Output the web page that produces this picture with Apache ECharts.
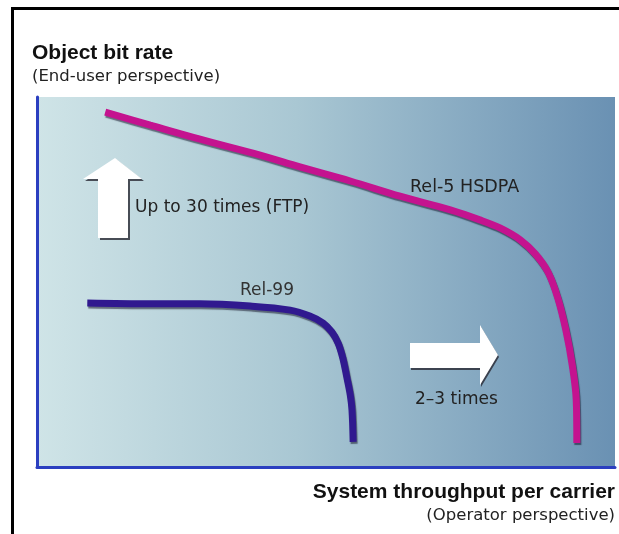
<!DOCTYPE html>
<html>
<head>
<meta charset="utf-8">
<style>
  html, body { margin: 0; padding: 0; background: #ffffff; }
  #chart { width: 619px; height: 534px; }
</style>
<script src="https://cdn.jsdelivr.net/npm/echarts@6/dist/echarts.min.js"></script>
</head>
<body>
<div id="chart"></div>
<script>
// Capacity trade-off curves: object bit rate vs. system throughput (relative units, 0-100)
const seriesNames = ['Rel-5 HSDPA', 'Rel-99'];

const rel5X = [11.8, 19.6, 28.2, 38.6, 45.5, 54.2, 62.8, 71.5, 76.6, 80.1, 83.6, 86.2, 88.4, 90.1, 91.5, 92.6, 93.3, 93.4];
const rel5Y = [95.9, 92.4, 88.6, 84.3, 81.1, 77.3, 73.2, 69.5, 66.8, 64.6, 61.4, 57.6, 52.7, 45.7, 37.0, 27.6, 18.1, 6.5];

const rel99X = [8.7, 19.6, 28.2, 36.9, 43.8, 47.2, 49.5, 51.0, 52.1, 52.9, 53.6, 54.2, 54.5, 54.7];
const rel99Y = [44.3, 44.1, 44.1, 43.5, 42.4, 40.8, 38.9, 36.5, 33.5, 29.5, 24.3, 19.5, 15.4, 6.8];

const axisTitles = ['Object bit rate', '(End-user perspective)', 'System throughput per carrier', '(Operator perspective)'];
const annotations = ['Up to 30 times (FTP)', '2\u20133 times'];

const zip = (xs, ys) => xs.map((x, i) => [x, ys[i]]);

const chart = echarts.init(document.getElementById('chart'), null, { renderer: 'canvas' });

const boldFont = 'Liberation Sans, Arial, Helvetica, sans-serif';
const font = 'DejaVu Sans, Verdana, sans-serif';
const shadowLine = { shadowColor: 'rgba(20,20,40,0.55)', shadowBlur: 1, shadowOffsetX: 1, shadowOffsetY: 2 };

chart.setOption({
  animation: false,
  grid: {
    left: 37, top: 97, right: 4, bottom: 67,
    show: true,
    borderWidth: 0,
    backgroundColor: new echarts.graphic.LinearGradient(0, 0, 1, 0, [
      { offset: 0, color: '#cfe4e7' },
      { offset: 0.45, color: '#a9c7d3' },
      { offset: 1, color: '#6a91b3' }
    ])
  },
  xAxis: {
    type: 'value', min: 0, max: 100,
    axisLine: { show: true, onZero: false, lineStyle: { color: '#2b3fc0', width: 3 } },
    axisTick: { show: false }, axisLabel: { show: false }, splitLine: { show: false }
  },
  yAxis: {
    type: 'value', min: 0, max: 100,
    axisLine: { show: true, onZero: false, lineStyle: { color: '#2b3fc0', width: 3 } },
    axisTick: { show: false }, axisLabel: { show: false }, splitLine: { show: false }
  },
  series: [
    {
      name: seriesNames[0], type: 'line', smooth: 0.35, showSymbol: false,
      data: zip(rel5X, rel5Y),
      lineStyle: Object.assign({ color: '#c4138f', width: 7, cap: 'butt' }, shadowLine)
    },
    {
      name: seriesNames[1], type: 'line', smooth: 0.35, showSymbol: false,
      data: zip(rel99X, rel99Y),
      lineStyle: Object.assign({ color: '#30198f', width: 7, cap: 'butt' }, shadowLine)
    }
  ],
  graphic: [
    // page frame: top and left rules
    { type: 'rect', shape: { x: 11, y: 7, width: 608, height: 3 }, style: { fill: '#000' } },
    { type: 'rect', shape: { x: 11, y: 7, width: 3, height: 527 }, style: { fill: '#000' } },

    // axis titles
    { type: 'text', x: 32, y: 53, style: { text: axisTitles[0], font: 'bold 21px ' + boldFont, fill: '#111', textVerticalAlign: 'middle' } },
    { type: 'text', x: 32, y: 77, style: { text: axisTitles[1], font: '16.5px ' + font, fill: '#222', textVerticalAlign: 'middle' } },
    { type: 'text', x: 615, y: 492, style: { text: axisTitles[2], font: 'bold 21px ' + boldFont, fill: '#111', textAlign: 'right', textVerticalAlign: 'middle' } },
    { type: 'text', x: 615, y: 516, style: { text: axisTitles[3], font: '16.5px ' + font, fill: '#222', textAlign: 'right', textVerticalAlign: 'middle' } },

    // series labels
    { type: 'text', x: 410, y: 187, style: { text: seriesNames[0], font: '17.5px ' + font, fill: '#222', textVerticalAlign: 'middle' } },
    { type: 'text', x: 240, y: 291, style: { text: seriesNames[1], font: '17px ' + font, fill: '#333', textVerticalAlign: 'middle' } },

    // up arrow
    {
      type: 'polygon',
      shape: { points: [[115, 158], [142, 179], [128, 179], [128, 238], [98, 238], [98, 179], [83, 179]] },
      style: { fill: '#ffffff', shadowColor: 'rgba(40,40,50,0.8)', shadowBlur: 0, shadowOffsetX: 2, shadowOffsetY: 2 }
    },
    { type: 'text', x: 135, y: 208, style: { text: annotations[0], font: '17px ' + font, fill: '#222', textVerticalAlign: 'middle' } },

    // right arrow
    {
      type: 'polygon',
      shape: { points: [[410, 343], [480, 343], [480, 325], [498, 355], [480, 385], [480, 368], [410, 368]] },
      style: { fill: '#ffffff', shadowColor: 'rgba(40,40,50,0.8)', shadowBlur: 0, shadowOffsetX: 1, shadowOffsetY: 2 }
    },
    { type: 'text', x: 415, y: 400, style: { text: annotations[1], font: '17px ' + font, fill: '#222', textVerticalAlign: 'middle' } }
  ]
});
</script>
</body>
</html>
